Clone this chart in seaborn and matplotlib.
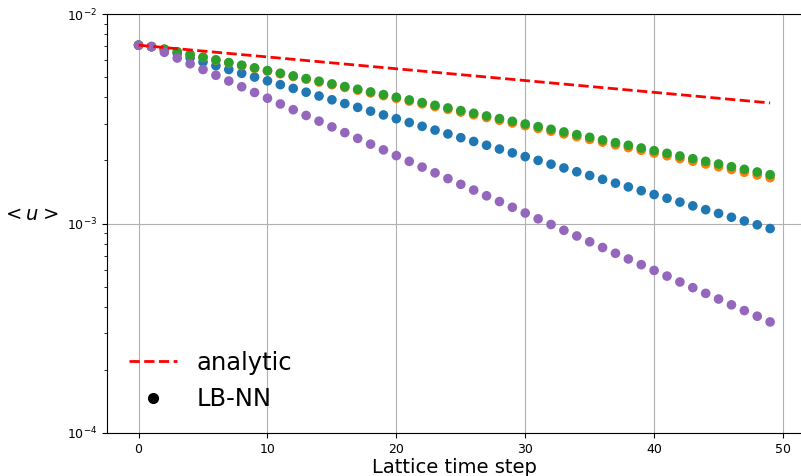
import numpy as np
import pandas as pd
import matplotlib
matplotlib.use("Agg")
import matplotlib.pyplot as plt
from matplotlib.lines import Line2D
import seaborn as sns

steps = list(range(50))

analytic = [0.00710, 0.007009, 0.006918, 0.006829, 0.006741, 0.006654, 0.006569, 0.006484, 0.006400, 0.006318,
            0.006237, 0.006156, 0.006077, 0.005999, 0.005922, 0.005845, 0.005770, 0.005696, 0.005622, 0.005550,
            0.005478, 0.005408, 0.005338, 0.005269, 0.005201, 0.005134, 0.005068, 0.005003, 0.004939, 0.004875,
            0.004812, 0.004750, 0.004689, 0.004629, 0.004569, 0.004510, 0.004452, 0.004395, 0.004338, 0.004282,
            0.004227, 0.004173, 0.004119, 0.004066, 0.004014, 0.003962, 0.003911, 0.003861, 0.003811, 0.003762]

run_blue = [0.00710, 0.006982, 0.006761, 0.006478, 0.006185, 0.005906, 0.005665, 0.005434, 0.005212, 0.005000,
            0.004796, 0.004600, 0.004413, 0.004233, 0.004060, 0.003894, 0.003736, 0.003583, 0.003437, 0.003297,
            0.003163, 0.003034, 0.002910, 0.002791, 0.002677, 0.002568, 0.002464, 0.002363, 0.002267, 0.002174,
            0.002086, 0.002001, 0.001919, 0.001841, 0.001766, 0.001694, 0.001625, 0.001558, 0.001495, 0.001434,
            0.001375, 0.001319, 0.001265, 0.001214, 0.001164, 0.001117, 0.001071, 0.001028, 0.000986, 0.000946]

run_orange = [0.00710, 0.006990, 0.006792, 0.006591, 0.006396, 0.006207, 0.006023, 0.005845, 0.005672, 0.005504,
              0.005341, 0.005183, 0.005030, 0.004881, 0.004736, 0.004596, 0.004460, 0.004328, 0.004200, 0.004076,
              0.003955, 0.003838, 0.003724, 0.003614, 0.003507, 0.003403, 0.003303, 0.003205, 0.003110, 0.003018,
              0.002929, 0.002842, 0.002758, 0.002676, 0.002597, 0.002520, 0.002446, 0.002373, 0.002303, 0.002235,
              0.002169, 0.002105, 0.002042, 0.001982, 0.001923, 0.001866, 0.001811, 0.001757, 0.001705, 0.001655]

run_green = [0.00710, 0.006990, 0.006792, 0.006596, 0.006405, 0.006220, 0.006040, 0.005865, 0.005696, 0.005531,
             0.005371, 0.005216, 0.005065, 0.004918, 0.004776, 0.004638, 0.004504, 0.004374, 0.004247, 0.004124,
             0.004005, 0.003889, 0.003777, 0.003667, 0.003561, 0.003458, 0.003358, 0.003261, 0.003167, 0.003075,
             0.002986, 0.002900, 0.002816, 0.002735, 0.002656, 0.002579, 0.002504, 0.002432, 0.002362, 0.002293,
             0.002227, 0.002163, 0.002100, 0.002039, 0.001980, 0.001923, 0.001867, 0.001813, 0.001761, 0.001710]

run_purple = [0.00710, 0.006982, 0.006564, 0.006163, 0.005786, 0.005432, 0.005100, 0.004788, 0.004495, 0.004220,
              0.003962, 0.003720, 0.003493, 0.003279, 0.003079, 0.002891, 0.002714, 0.002548, 0.002392, 0.002246,
              0.002109, 0.001980, 0.001859, 0.001745, 0.001638, 0.001538, 0.001444, 0.001356, 0.001273, 0.001195,
              0.001122, 0.001053, 0.000989, 0.000928, 0.000872, 0.000818, 0.000768, 0.000721, 0.000677, 0.000636,
              0.000597, 0.000561, 0.000526, 0.000494, 0.000464, 0.000436, 0.000409, 0.000384, 0.000361, 0.000339]

run_names = ["run 1", "run 2", "run 3", "run 4"]
run_colors = ["#1f77b4", "#ff7f0e", "#2ca02c", "#9467bd"]
runs = [run_blue, run_orange, run_green, run_purple]

df = pd.concat([pd.DataFrame({"t": steps, "u": vals, "run": name})
                for name, vals in zip(run_names, runs)], ignore_index=True)
df_an = pd.DataFrame({"t": steps, "u": analytic})

plt.rcParams["font.family"] = ["DejaVu Sans"]
fig = plt.figure(figsize=(8.01, 4.76), dpi=100)
# axes extend slightly past the right edge (the reference is cropped there)
x0_px, x1_px_data = 107, 801.7
ax = fig.add_axes([x0_px / 801, 1 - 433 / 476, (x1_px_data - x0_px) / 801, 419 / 476])

sns.scatterplot(data=df, x="t", y="u", hue="run", palette=run_colors, hue_order=run_names,
                s=48, linewidth=0, legend=False, ax=ax, zorder=2)
sns.lineplot(data=df_an, x="t", y="u", color="red", linestyle="--", linewidth=2, ax=ax, zorder=3)

ax.set_yscale("log")
ax.set_ylim(1e-4, 1e-2)
ax.set_xlim(-2.45, 51.45)
ax.set_xticks([0, 10, 20, 30, 40, 50])
ax.grid(True, which="major", color="#b0b0b0", linewidth=0.8)
ax.tick_params(labelsize=9)
ax.spines["right"].set_visible(False)
ax.set_xlabel("Lattice time step", fontsize=14, labelpad=1.5)
ax.set_ylabel(r"$<u>$", fontsize=14, rotation=0, labelpad=22)
ax.yaxis.set_label_coords(-0.11, 0.50)

handles = [Line2D([], [], color="red", linestyle="--", linewidth=2),
           Line2D([], [], color="black", marker="o", linestyle="none", markersize=7)]
ax.legend(handles, ["analytic", "LB-NN"], loc="lower left", fontsize=17.5, frameon=False)

fig.savefig("out.png", dpi=100)
